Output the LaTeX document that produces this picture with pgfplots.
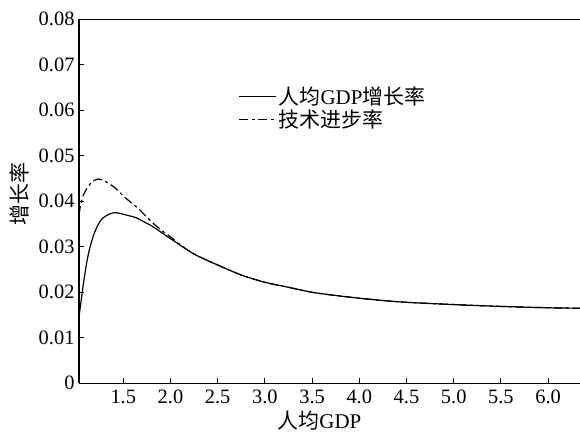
\documentclass[border=0pt]{standalone}
\usepackage{fontspec}
\setmainfont{Liberation Serif}
\newfontfamily\cjk{Noto Sans CJK SC}
\usepackage{pgfplots}
\pgfplotsset{compat=1.18}
\begin{document}
\begin{tikzpicture}[x=1bp,y=1bp]
\useasboundingbox (0,0) rectangle (580,432);
\begin{axis}[
  at={(79bp,48.7bp)}, anchor=south west,
  scale only axis, width=501bp, height=364bp,
  xmin=1.031, xmax=6.338, ymin=0, ymax=0.08,
  axis x line*=box, axis y line*=left,
  axis line style={line width=1.1bp},
  xtick={1.5,2,...,6}, ytick={0,0.01,...,0.08},
  scaled y ticks=false,
  tick align=inside, major tick length=5bp,
  tick style={line width=0.9bp,black},
  xtick pos=bottom, ytick pos=left,
  x tick label style={/pgf/number format/fixed,/pgf/number format/fixed zerofill,/pgf/number format/precision=1,/pgf/number format/assume math mode=true,yshift=-3bp},
  y tick label style={/pgf/number format/fixed,/pgf/number format/precision=2,/pgf/number format/assume math mode=true,xshift=-1bp},
  tick label style={font=\fontsize{20.5}{23}\selectfont},
  xlabel={{\cjk 人均}GDP},
  ylabel={{\cjk 增长率}},
  label style={font=\fontsize{21}{24}\selectfont},
  xlabel style={at={(axis description cs:0.48,-0.102)}, anchor=center},
  ylabel style={at={(axis description cs:-0.118,0.52)}, anchor=center},
  legend style={at={(axis description cs:0.312,0.826)}, anchor=north west, draw=none, fill=none,
    font=\fontsize{21}{24}\selectfont, row sep=0bp},
  legend cell align=left,
  legend image code/.code={\draw[#1] (0bp,0bp) -- (37bp,0bp);},
]
\addplot[black, line width=1.2bp, smooth, tension=0.45] coordinates {
(1.031,0.0146) (1.05,0.0176) (1.07,0.0207) (1.105,0.0256) (1.14,0.0293)
(1.193,0.0330) (1.264,0.0359) (1.352,0.0372) (1.423,0.0375) (1.53,0.0370)
(1.635,0.0364) (1.7,0.0357)
(1.8,0.0346) (1.9,0.0332) (2.0,0.0318) (2.25,0.0284) (2.5,0.0260)
(2.75,0.0238) (3.0,0.0222) (3.25,0.0211) (3.5,0.0200) (3.75,0.0193)
(4.0,0.0187) (4.25,0.0182) (4.5,0.0178) (5.0,0.0173) (5.5,0.0169)
(6.0,0.0166) (6.338,0.0165)
};
\addlegendentry{{\cjk 人均}GDP{\cjk 增长率}}
\addplot[black, line width=1.2bp, smooth, tension=0.4, dash pattern=on 9bp off 3.5bp on 3bp off 3.5bp] coordinates {
(1.031,0.0370) (1.05,0.0395) (1.08,0.0415) (1.12,0.0430) (1.17,0.0443)
(1.235,0.0449) (1.3,0.0445) (1.41,0.0430) (1.52,0.0408) (1.655,0.0385)
(1.8,0.0355) (1.9,0.0337) (2.0,0.0322) (2.1,0.0305) (2.25,0.0284) (2.5,0.0260)
(2.75,0.0238) (3.0,0.0222) (3.25,0.0211) (3.5,0.0200) (3.75,0.0193)
(4.0,0.0187) (4.25,0.0182) (4.5,0.0178) (5.0,0.0173) (5.5,0.0169)
(6.0,0.0166) (6.338,0.0165)
};
\addlegendentry{{\cjk 技术进步率}}
\end{axis}
\end{tikzpicture}
\end{document}
